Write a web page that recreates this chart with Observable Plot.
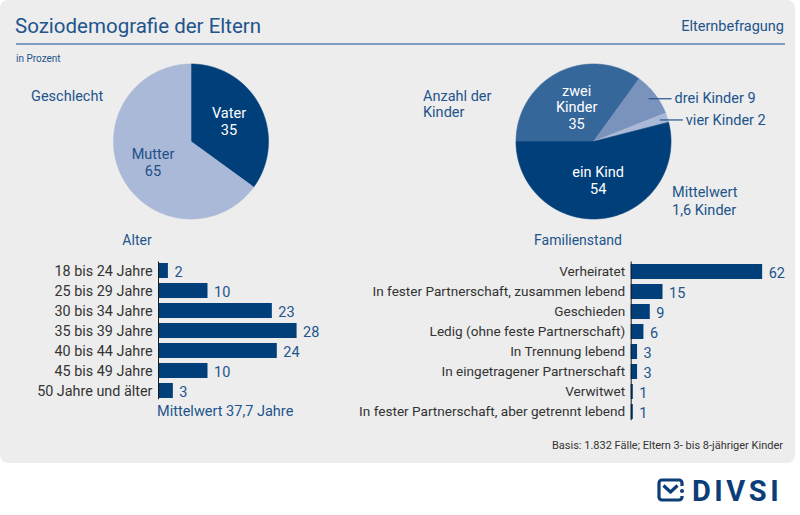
<!DOCTYPE html>
<html><head><meta charset="utf-8">
<script src="https://cdn.jsdelivr.net/npm/d3@7"></script>
<script src="https://cdn.jsdelivr.net/npm/@observablehq/plot@0.6"></script>
<style>
html,body{margin:0;padding:0;background:#fff;}
#root{position:relative;width:800px;height:515px;overflow:hidden;font-family:Roboto,"Noto Sans",sans-serif;}
#panel{position:absolute;left:0;top:0;width:795px;height:463px;background:#ededed;border-radius:8px;}
.t{position:absolute;white-space:nowrap;line-height:1;}
.blue{color:#22548c;}
#root svg{position:absolute;overflow:visible;}
</style>
</head><body>
<div id="root"><div id="panel"></div></div>
<script>
// ---- data ----
const genderLabels = ["Vater", "Mutter"];
const genderValues = [35, 65];
const genderColors = ["#003f7a", "#aab9d7"];

const kinderLabels = ["zwei Kinder", "drei Kinder", "vier Kinder", "ein Kind"];
const kinderValues = [35, 9, 2, 54];
const kinderColors = ["#35679b", "#7a93bd", "#aab9d7", "#003f7a"];
const kinderInside = ["zwei\nKinder", null, null, "ein Kind"];

const ageLabels = ["18 bis 24 Jahre", "25 bis 29 Jahre", "30 bis 34 Jahre", "35 bis 39 Jahre", "40 bis 44 Jahre", "45 bis 49 Jahre", "50 Jahre und älter"];
const ageValues = [2, 10, 23, 28, 24, 10, 3];

const statusLabels = ["Verheiratet", "In fester Partnerschaft, zusammen lebend", "Geschieden", "Ledig (ohne feste Partnerschaft)", "In Trennung lebend", "In eingetragener Partnerschaft", "Verwitwet", "In fester Partnerschaft, aber getrennt lebend"];
const statusValues = [62, 15, 9, 6, 3, 3, 1, 1];

const BAR = "#003f7a", BLUE = "#22548c", DARK = "#333333";
const root = document.getElementById("root");

function txt(s, x, yc, size, opts = {}) {
  const d = document.createElement("div");
  d.className = "t" + (opts.cls ? " " + opts.cls : "");
  d.innerHTML = s;
  d.style.fontSize = size + "px";
  const lh = opts.lh || size;
  if (opts.lh) d.style.lineHeight = opts.lh + "px";
  d.style.top = (yc - lh * 0.5) + "px";
  if (opts.anchor === "end") { d.style.right = (800 - x) + "px"; d.style.textAlign = "right"; }
  else if (opts.anchor === "middle") { d.style.left = (x - 200) + "px"; d.style.width = "400px"; d.style.textAlign = "center"; }
  else d.style.left = x + "px";
  if (opts.color) d.style.color = opts.color;
  root.appendChild(d);
  return d;
}

// ---- header ----
txt("Soziodemografie der Eltern", 15, 26, 20.5, {cls: "blue"});
txt("Elternbefragung", 784, 27, 14.5, {cls: "blue", anchor: "end"});
const hr = document.createElement("div");
hr.style.cssText = "position:absolute;left:16px;top:43px;width:769px;height:1.5px;background:#7f9cc2;";
root.appendChild(hr);
txt("in Prozent", 16, 58.5, 10, {cls: "blue"});

// ---- pies ----
const R = 77.5;
function slices(labels, values, startDeg) {
  const total = d3.sum(values);
  let a = startDeg * Math.PI / 180;
  return labels.map((k, i) => {
    const a0 = a, a1 = a + values[i] / total * 2 * Math.PI;
    a = a1;
    return {key: k, value: values[i], i, a0, a1, mid: (a0 + a1) / 2};
  });
}
function polygon(s) {
  const pts = [{key: s.key, x: 0, y: 0}];
  const n = Math.max(2, Math.ceil((s.a1 - s.a0) / (Math.PI / 360)));
  for (let j = 0; j <= n; j++) {
    const t = s.a0 + (s.a1 - s.a0) * j / n;
    pts.push({key: s.key, x: Math.sin(t), y: Math.cos(t)});
  }
  pts.push({key: s.key, x: 0, y: 0});
  return pts;
}
function piePlot(sl, labels, colors, extraMarks, box) {
  const pts = sl.flatMap(polygon);
  const p = Plot.plot({
    width: box.width, height: box.height,
    marginLeft: 0, marginRight: 0, marginTop: 0, marginBottom: 0,
    x: {domain: [-box.cx / R, (box.width - box.cx) / R], axis: null},
    y: {domain: [-(box.height - box.cy) / R, box.cy / R], axis: null},
    color: {domain: labels, range: colors},
    style: {background: "transparent", fontFamily: "Roboto, sans-serif", fontSize: "14px", overflow: "visible"},
    marks: [
      Plot.line(pts, {x: "x", y: "y", z: "key", fill: "key", stroke: "key", strokeWidth: 0.6, curve: "linear"}),
      ...extraMarks
    ]
  });
  p.style.left = box.left + "px";
  p.style.top = box.top + "px";
  root.appendChild(p);
}

const gSl = slices(genderLabels, genderValues, 0);
piePlot(gSl, genderLabels, genderColors, [
  Plot.text(gSl, {
    x: d => 0.55 * Math.sin(d.mid), y: d => 0.58 * Math.cos(d.mid),
    text: d => d.key + "\n" + d.value, fontSize: 14.5, lineHeight: 1.2,
    fill: d => d.i === 0 ? "#ffffff" : "#1f4f88"
  })
], {left: 0, top: 60.5, width: 400, height: 160, cx: 190.5, cy: 80});

const kSl = slices(kinderLabels, kinderValues, -90);
const kIn = kSl.filter(d => kinderInside[d.i]);
const kOut = kSl.filter(d => !kinderInside[d.i]);
piePlot(kSl, kinderLabels, kinderColors, [
  Plot.text(kIn, {
    x: d => 0.48 * Math.sin(d.mid), y: d => 0.5 * Math.cos(d.mid),
    text: d => kinderInside[d.i] + "\n" + d.value, fontSize: 14.5, lineHeight: 1.15, fill: "#ffffff"
  }),
  Plot.link(kOut, {
    x1: d => 0.9 * Math.sin(d.mid), y1: d => 0.9 * Math.cos(d.mid),
    x2: d => 0.9 * Math.sin(d.mid) + 23 / R, y2: d => 0.9 * Math.cos(d.mid),
    stroke: BLUE, strokeWidth: 1.2
  }),
  Plot.text(kOut, {
    x: d => 0.9 * Math.sin(d.mid) + 26 / R, y: d => 0.9 * Math.cos(d.mid),
    text: d => d.key + " " + d.value, textAnchor: "start", fontSize: 14.5, fill: BLUE
  })
], {left: 400, top: 60.5, width: 400, height: 160, cx: 193, cy: 80});

txt("Geschlecht", 31, 97, 14.5, {cls: "blue"});
txt("Anzahl der<br>Kinder", 423, 97, 14.5, {cls: "blue", lh: 16.5});
txt("Mittelwert<br>1,6 Kinder", 672, 193, 14.5, {cls: "blue", lh: 18});

// ---- bars ----
function barPlot(labels, values, box) {
  const data = labels.map((l, i) => ({label: l, value: values[i]}));
  const p = Plot.plot({
    width: box.width, height: box.height,
    marginLeft: box.marginLeft, marginRight: 0, marginTop: 0, marginBottom: 0,
    x: {domain: [0, (box.width - box.marginLeft) / box.pxPerUnit], axis: null},
    y: {domain: labels, padding: 0.27, tickSize: 0, tickPadding: 6, label: null},
    style: {background: "transparent", fontFamily: "Roboto, sans-serif", fontSize: box.fontSize + "px", color: DARK, overflow: "visible"},
    marks: [
      Plot.barX(data, {x: "value", y: "label", fill: BAR}),
      Plot.ruleX([0], {stroke: "#1a1a1a", strokeWidth: 1, insetTop: 5.5, insetBottom: 5.5}),
      Plot.text(data, {x: "value", y: "label", text: d => String(d.value), dx: 6, dy: 1, textAnchor: "start", fill: BLUE, fontSize: 14.5})
    ]
  });
  p.style.left = box.left + "px";
  p.style.top = box.top + "px";
  root.appendChild(p);
}
barPlot(ageLabels, ageValues, {left: 0, top: 256, width: 340, height: 20.45 * 7.27, marginLeft: 158, pxPerUnit: 4.95, fontSize: 14.4});
barPlot(statusLabels, statusValues, {left: 330, top: 256, width: 470, height: 20.53 * 8.27, marginLeft: 300.7, pxPerUnit: 2.12, fontSize: 13.6});

txt("Alter", 137, 240, 14, {cls: "blue", anchor: "middle"});
txt("Familienstand", 578, 240, 14, {cls: "blue", anchor: "middle"});
txt("Mittelwert 37,7 Jahre", 157, 412.5, 14.5, {cls: "blue"});

// ---- footer ----
txt("Basis: 1.832 Fälle; Eltern 3- bis 8-jähriger Kinder", 783, 445, 11, {color: DARK, anchor: "end"});
const logo = document.createElement("div");
logo.style.cssText = "position:absolute;left:655px;top:476px;";
logo.innerHTML = `<svg width="135" height="30" style="position:static">
<path d="M27 10 V7 A3 3 0 0 0 24 4 H7 A3 3 0 0 0 4 7 V21 A3 3 0 0 0 7 24 H24 A3 3 0 0 0 27 21 V20" fill="none" stroke="#0b3d78" stroke-width="3.2"/>
<path d="M8.5 9.5 L15.5 16 L22.5 9.5" fill="none" stroke="#0b3d78" stroke-width="3.2" stroke-linejoin="round"/>
<circle cx="27" cy="15" r="2" fill="#0b3d78"/>
<text x="37" y="24.5" font-family="Roboto, sans-serif" font-weight="700" font-size="29" letter-spacing="3.5" fill="#0b3d78">DIVSI</text>
</svg>`;
root.appendChild(logo);
</script>
</body></html>
